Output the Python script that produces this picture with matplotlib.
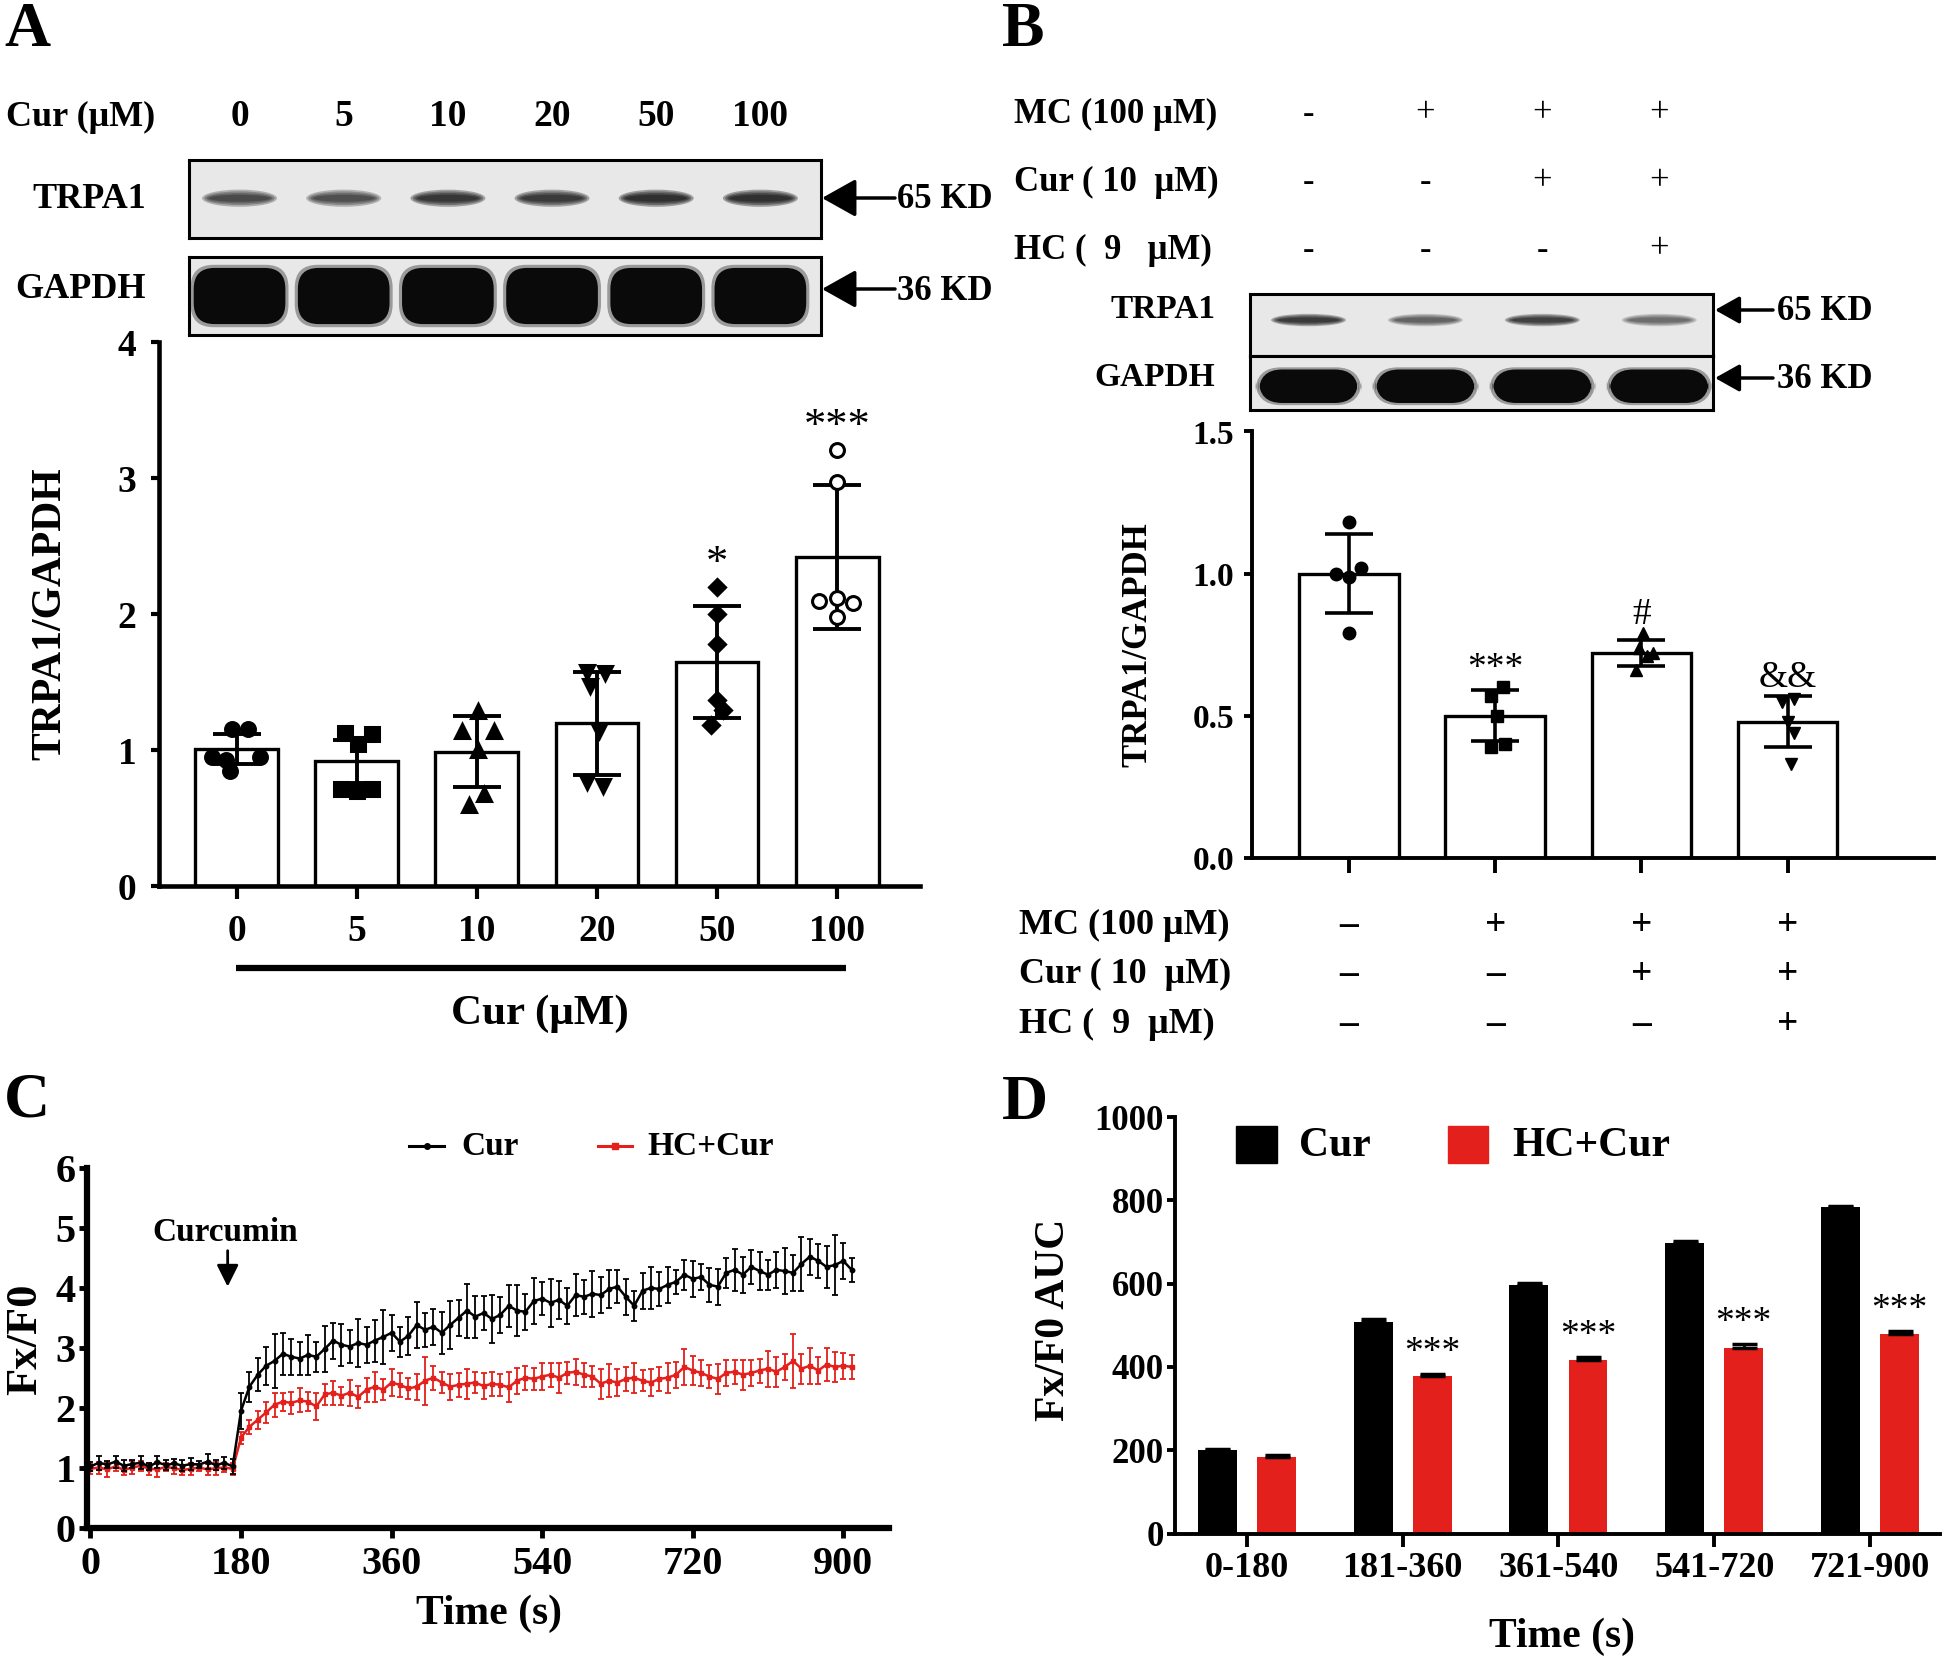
import numpy as np
import matplotlib
matplotlib.use('Agg')
import matplotlib.pyplot as plt
from matplotlib.patches import Ellipse, FancyBboxPatch, Rectangle
from matplotlib.transforms import blended_transform_factory

plt.rcParams['font.family'] = ['Liberation Serif', 'DejaVu Serif']
plt.rcParams['font.weight'] = 'bold'
plt.rcParams['axes.labelweight'] = 'bold'

# ---------------- data ----------------
# panel A
conc = ['0', '5', '10', '20', '50', '100']
trpa1_band_a = [0.72, 0.68, 0.88, 0.85, 0.95, 0.95]
gapdh_band_a = [1, 1, 1, 1, 1, 1]
ratio_a_mean = [1.01, 0.92, 0.99, 1.20, 1.65, 2.42]
ratio_a_sd = [0.11, 0.16, 0.26, 0.38, 0.41, 0.53]
ratio_a_pts = [[1.16, 1.16, 0.95, 0.93, 0.95, 0.85],
               [1.13, 1.12, 1.05, 0.72, 0.70, 0.72],
               [1.29, 1.14, 1.14, 1.00, 0.68, 0.60],
               [1.58, 1.57, 1.47, 1.14, 0.77, 0.74],
               [2.20, 2.00, 1.78, 1.37, 1.30, 1.19],
               [3.21, 2.97, 2.10, 2.12, 2.08, 1.98]]
sig_a = ['', '', '', '', '*', '***']

# panel B
mc_on = [0, 1, 1, 1]
cur_on = [0, 0, 1, 1]
hc_on = [0, 0, 0, 1]
trpa1_band_b = [0.85, 0.55, 0.80, 0.50]
gapdh_band_b = [1, 1, 1, 1]
ratio_b_mean = [1.00, 0.50, 0.72, 0.48]
ratio_b_sd = [0.14, 0.09, 0.045, 0.09]
ratio_b_pts = [[1.18, 1.02, 1.00, 0.99, 0.79],
               [0.60, 0.57, 0.50, 0.40, 0.39],
               [0.79, 0.74, 0.72, 0.71, 0.66],
               [0.56, 0.55, 0.48, 0.44, 0.33]]
sig_b = ['', '***', '#', '&&']

# panel C (every 10 s)
time_s = np.arange(0, 911, 10)
cur_mean = [1.02, 1.08, 1.05, 1.10, 1.03, 1.06, 1.08, 1.02, 1.09, 1.04, 1.07, 1.03, 1.06, 1.05, 1.10, 1.04, 1.08, 1.02,
            1.95, 2.35, 2.55, 2.70, 2.78, 2.90, 2.85, 2.82, 2.88, 2.85,
            2.98, 3.12, 3.05, 3.02, 3.08, 3.05, 3.12, 3.18, 3.25, 3.10,
            3.20, 3.38, 3.30, 3.35, 3.25, 3.38, 3.50, 3.62, 3.52, 3.58,
            3.48, 3.55, 3.70, 3.62, 3.60, 3.78, 3.82, 3.75, 3.80, 3.70,
            3.88, 3.85, 3.90, 3.88, 3.98, 4.02, 3.85, 3.70, 3.95, 4.00,
            3.98, 4.05, 4.10, 4.22, 4.15, 4.18, 4.05, 4.02, 4.25, 4.30,
            4.22, 4.35, 4.28, 4.22, 4.30, 4.28, 4.25, 4.40, 4.52, 4.45,
            4.35, 4.38, 4.45, 4.30]
cur_err = [0.08, 0.12, 0.06, 0.10, 0.09, 0.07, 0.11, 0.06, 0.10, 0.08, 0.07, 0.09, 0.10, 0.06, 0.12, 0.08, 0.10, 0.13,
           0.30, 0.25, 0.28, 0.32, 0.45, 0.35, 0.30, 0.28, 0.33, 0.25,
           0.38, 0.30, 0.35, 0.28, 0.40, 0.30, 0.35, 0.45, 0.30, 0.25,
           0.32, 0.38, 0.28, 0.30, 0.35, 0.40, 0.30, 0.45, 0.35, 0.28,
           0.40, 0.30, 0.35, 0.42, 0.30, 0.38, 0.28, 0.40, 0.32, 0.30,
           0.35, 0.28, 0.38, 0.30, 0.32, 0.28, 0.30, 0.25, 0.30, 0.35,
           0.28, 0.30, 0.20, 0.25, 0.30, 0.22, 0.28, 0.30, 0.25, 0.35,
           0.30, 0.28, 0.32, 0.25, 0.30, 0.38, 0.30, 0.45, 0.30, 0.28,
           0.35, 0.50, 0.30, 0.20]
hc_mean = [0.98, 1.00, 0.97, 1.02, 0.96, 1.00, 1.03, 0.98, 0.97, 1.01, 0.99, 0.96, 0.98, 1.00, 0.97, 0.99, 1.00, 0.98,
           1.50, 1.68, 1.80, 1.92, 2.05, 2.10, 2.08, 2.12, 2.10, 2.02,
           2.22, 2.25, 2.20, 2.25, 2.18, 2.30, 2.35, 2.30, 2.42, 2.38,
           2.32, 2.35, 2.45, 2.50, 2.42, 2.35, 2.38, 2.40, 2.42, 2.36,
           2.40, 2.38, 2.34, 2.45, 2.50, 2.48, 2.52, 2.55, 2.50, 2.58,
           2.60, 2.55, 2.52, 2.40, 2.45, 2.42, 2.48, 2.50, 2.45, 2.42,
           2.48, 2.50, 2.55, 2.68, 2.62, 2.58, 2.52, 2.48, 2.58, 2.60,
           2.55, 2.58, 2.62, 2.65, 2.60, 2.68, 2.78, 2.65, 2.70, 2.62,
           2.72, 2.68, 2.70, 2.68]
hc_err = [0.08, 0.10, 0.12, 0.07, 0.09, 0.11, 0.08, 0.10, 0.12, 0.07, 0.09, 0.08, 0.10, 0.06, 0.09, 0.11, 0.08, 0.10,
          0.10, 0.12, 0.15, 0.18, 0.20, 0.15, 0.18, 0.20, 0.16, 0.22,
          0.18, 0.20, 0.15, 0.22, 0.18, 0.20, 0.25, 0.18, 0.22, 0.20,
          0.18, 0.22, 0.40, 0.20, 0.18, 0.22, 0.20, 0.25, 0.18, 0.22,
          0.20, 0.18, 0.25, 0.22, 0.20, 0.18, 0.22, 0.20, 0.25, 0.18,
          0.22, 0.20, 0.18, 0.25, 0.28, 0.22, 0.20, 0.25, 0.18, 0.22,
          0.20, 0.25, 0.22, 0.30, 0.25, 0.22, 0.20, 0.25, 0.22, 0.20,
          0.25, 0.22, 0.20, 0.30, 0.25, 0.22, 0.45, 0.25, 0.30, 0.22,
          0.28, 0.25, 0.22, 0.20]

# panel D
bins = ['0-180', '181-360', '361-540', '541-720', '721-900']
auc_cur = [200, 507, 597, 698, 783]
auc_cur_err = [3, 7, 5, 5, 4]
auc_hc = [185, 378, 416, 446, 478]
auc_hc_err = [4, 5, 7, 8, 8]
sig_d = ['', '***', '***', '***', '***']

# ---------------- layout helpers ----------------
W, H = 1944, 1660
RED = '#e3201b'
fig = plt.figure(figsize=(W / 100, H / 100), dpi=100)


def rect(x0, y0, x1, y1):
    return [x0 / W, 1 - y1 / H, (x1 - x0) / W, (y1 - y0) / H]


def style_axes(ax, lw):
    for s in ['top', 'right']:
        ax.spines[s].set_visible(False)
    for s in ['left', 'bottom']:
        ax.spines[s].set_linewidth(lw)
    ax.set_facecolor('none')


def blot(box, xlim, bands, yc, bh, bw, thick):
    bx = fig.add_axes(rect(*box))
    bx.set_xlim(*xlim)
    bx.set_ylim(1, 0)
    bx.set_xticks([])
    bx.set_yticks([])
    bx.set_facecolor('#e8e8e8')
    for s in bx.spines.values():
        s.set_linewidth(2.2)
    pos = bx.get_position()
    asp = (pos.width * W / (xlim[1] - xlim[0])) / (pos.height * H)
    for i, v in enumerate(bands):
        if thick:
            bx.add_patch(FancyBboxPatch((i - bw / 2 - 0.03, yc - bh / 2 - 0.04), bw + 0.06, bh + 0.08,
                                        boxstyle='round,pad=0,rounding_size=0.22', mutation_aspect=asp,
                                        fc='#666', ec='none', alpha=0.6))
            bx.add_patch(FancyBboxPatch((i - bw / 2, yc - bh / 2), bw, bh,
                                        boxstyle='round,pad=0,rounding_size=0.2', mutation_aspect=asp,
                                        fc='#0a0a0a', ec='none'))
        else:
            for k in [1.0, 0.8, 0.6, 0.4]:
                bx.add_patch(Ellipse((i, yc), bw * (0.7 + 0.3 * k), bh * k,
                                     color='k', alpha=0.34 * v, lw=0))
    return bx


ov = fig.add_axes([0, 0, 1, 1], zorder=10)
ov.set_xlim(0, W)
ov.set_ylim(H, 0)
ov.axis('off')


def arrow(tip, end, y, ms):
    ov.annotate('', xy=(tip, y), xytext=(end, y),
                arrowprops=dict(arrowstyle='-|>,head_length=0.5,head_width=0.28', lw=2.5,
                                color='k', mutation_scale=ms, shrinkA=0, shrinkB=0))


# ---------------- panel A ----------------
ov.text(4, 2, 'A', fontsize=46, va='top', ha='left')
ov.text(6, 117, 'Cur (\u03bcM)', fontsize=26, va='center', ha='left')
bta = blot((188.5, 160, 820.8, 238), (-0.49, 5.58), trpa1_band_a, 0.49, 0.22, 0.72, False)
bga = blot((188.5, 257, 820.8, 335), (-0.49, 5.58), gapdh_band_a, 0.5, 0.72, 0.88, True)
tr_a = blended_transform_factory(bta.transData, ov.transData)
for i, c in enumerate(conc):
    ov.text(i, 117, c, transform=tr_a, fontsize=27, ha='center', va='center')
ov.text(146, 200, 'TRPA1', fontsize=26, ha='right', va='center')
ov.text(146, 289, 'GAPDH', fontsize=26, ha='right', va='center')
arrow(822, 895, 198, 42)
arrow(822, 895, 289, 42)
ov.text(897, 200, '65 KD', fontsize=25, ha='left', va='center')
ov.text(897, 291, '36 KD', fontsize=25, ha='left', va='center')

axa = fig.add_axes(rect(158.7, 342.2, 920, 886.5))
style_axes(axa, 3.3)
xa = np.arange(len(conc))
axa.bar(xa, ratio_a_mean, width=0.69, color='white', edgecolor='k', linewidth=2.4, zorder=2)
axa.errorbar(xa, ratio_a_mean, yerr=ratio_a_sd, fmt='none', ecolor='k', elinewidth=2.8,
             capsize=17, capthick=2.8, zorder=3)
jit_a = [[-0.04, 0.09, -0.21, -0.09, 0.19, -0.06],
         [-0.10, 0.13, 0.01, -0.13, 0.00, 0.13],
         [0.01, -0.12, 0.14, 0.01, 0.06, -0.07],
         [-0.08, 0.07, -0.06, 0.02, -0.08, 0.05],
         [0.00, 0.00, 0.00, 0.00, 0.05, -0.05],
         [0.00, 0.00, -0.15, 0.00, 0.13, 0.00]]
mk_a = ['o', 's', '^', 'v', 'D', 'o']
for i in range(len(conc)):
    fc = 'white' if i == 5 else 'k'
    ms = 8 if i == 4 else 10
    axa.plot(xa[i] + np.array(jit_a[i]), ratio_a_pts[i], linestyle='none', marker=mk_a[i],
             ms=ms, mfc=fc, mec='k', mew=2.2, zorder=4)
    if sig_a[i]:
        top = max(max(ratio_a_pts[i]), ratio_a_mean[i] + ratio_a_sd[i])
        axa.annotate(sig_a[i], xy=(xa[i], top), xytext=(0, 2), textcoords='offset points',
                     ha='center', va='bottom', fontsize=32, fontweight='normal')
axa.set_xlim(-0.65, 5.69)
axa.set_ylim(0, 4)
axa.set_yticks([0, 1, 2, 3, 4])
axa.set_xticks(xa)
axa.set_xticklabels(conc)
axa.tick_params(axis='y', length=6, width=3, labelsize=27, pad=10)
axa.tick_params(axis='x', length=9, width=3, labelsize=27, pad=11)
ov.plot([235.6, 845.5], [968, 968], color='k', lw=4.5, solid_capstyle='butt')
ov.text(540, 1014, 'Cur (\u03bcM)', fontsize=31, ha='center', va='center')
ov.text(50, 614, 'TRPA1/GAPDH', fontsize=30, ha='center', va='center', rotation=90)

# ---------------- panel B ----------------
ov.text(1002, 2, 'B', fontsize=46, va='top', ha='left')
btb = blot((1250, 294, 1713, 356), (-0.5, 3.46), trpa1_band_b, 0.42, 0.2, 0.64, False)
bgb = blot((1250, 356, 1713, 410), (-0.5, 3.46), gapdh_band_b, 0.56, 0.62, 0.85, True)
tr_b = blended_transform_factory(btb.transData, ov.transData)
rows_b = [('MC (100 \u03bcM)', mc_on), ('Cur ( 10  \u03bcM)', cur_on), ('HC (  9   \u03bcM)', hc_on)]
for (lab, on), y in zip(rows_b, [114, 182, 250]):
    ov.text(1014, y, lab, fontsize=25, ha='left', va='center')
    for i, v in enumerate(on):
        ov.text(i, y, '+' if v else '-', transform=tr_b, fontsize=25, fontweight='normal',
                ha='center', va='center')
ov.text(1215, 310, 'TRPA1', fontsize=24, ha='right', va='center')
ov.text(1215, 378, 'GAPDH', fontsize=24, ha='right', va='center')
arrow(1715, 1773, 310, 30)
arrow(1715, 1773, 378, 30)
ov.text(1777, 311, '65 KD', fontsize=25, ha='left', va='center')
ov.text(1777, 379, '36 KD', fontsize=25, ha='left', va='center')

axb = fig.add_axes(rect(1252, 431.5, 1934, 858))
style_axes(axb, 2.8)
xb = np.arange(len(ratio_b_mean))
axb.bar(xb, ratio_b_mean, width=0.68, color='white', edgecolor='k', linewidth=2.4, zorder=2)
axb.errorbar(xb, ratio_b_mean, yerr=ratio_b_sd, fmt='none', ecolor='k', elinewidth=2.6,
             capsize=17, capthick=2.6, zorder=3)
jit_b = [[0.00, 0.08, -0.09, 0.00, 0.00],
         [0.05, -0.03, 0.01, 0.07, -0.03],
         [0.01, -0.02, 0.08, 0.04, -0.04],
         [0.04, -0.04, 0.00, 0.04, 0.02]]
mk_b = ['o', 's', '^', 'v']
for i in range(len(xb)):
    axb.plot(xb[i] + np.array(jit_b[i]), ratio_b_pts[i], linestyle='none', marker=mk_b[i],
             ms=9, mfc='k', mec='k', zorder=4)
    if sig_b[i]:
        top = max(max(ratio_b_pts[i]), ratio_b_mean[i] + ratio_b_sd[i])
        axb.annotate(sig_b[i], xy=(xb[i], top), xytext=(0, 1), textcoords='offset points',
                     ha='center', va='bottom', fontsize=27, fontweight='normal')
axb.set_xlim(-0.663, 4.0)
axb.set_ylim(0, 1.5)
axb.set_yticks([0, 0.5, 1.0, 1.5])
axb.set_yticklabels(['0.0', '0.5', '1.0', '1.5'])
axb.set_xticks(xb)
axb.set_xticklabels([])
axb.tick_params(axis='y', length=6, width=2.8, labelsize=24, pad=7)
axb.tick_params(axis='x', length=11, width=2.8)
ov.text(1138, 645, 'TRPA1/GAPDH', fontsize=25, ha='center', va='center', rotation=90)
trb2 = blended_transform_factory(axb.transData, ov.transData)
for (lab, on), y in zip([('MC (100 \u03bcM)', mc_on), ('Cur ( 10  \u03bcM)', cur_on),
                         ('HC (  9  \u03bcM)', hc_on)], [925, 974.5, 1024]):
    ov.text(1019, y, lab, fontsize=26, ha='left', va='center')
    for i, v in enumerate(on):
        ov.text(i, y, '+' if v else '\u2013', transform=trb2, fontsize=27,
                ha='center', va='center')

# ---------------- panel C ----------------
ov.text(4, 1072, 'C', fontsize=46, va='top', ha='left')
axc = fig.add_axes(rect(86.8, 1168, 889.3, 1527.5))
style_axes(axc, 4.5)
axc.errorbar(time_s, cur_mean, yerr=cur_err, fmt='-o', color='k', ms=3.2, lw=1.8,
             elinewidth=1.3, capsize=2.5, capthick=1.3, zorder=3)
axc.errorbar(time_s, hc_mean, yerr=hc_err, fmt='-s', color=RED, ms=3.2, lw=1.8,
             elinewidth=1.3, capsize=2.5, capthick=1.3, zorder=2)
axc.set_xlim(-4.4, 955)
axc.set_ylim(0, 6)
axc.set_xticks([0, 180, 360, 540, 720, 900])
axc.set_yticks([0, 1, 2, 3, 4, 5, 6])
axc.tick_params(axis='y', length=6, width=3.5, labelsize=29, pad=2)
axc.tick_params(axis='x', length=7, width=3.5, labelsize=29, pad=6)
axc.text(161, 4.93, 'Curcumin', ha='center', va='center', fontsize=24)
axc.annotate('', xy=(164, 4.02), xytext=(164, 4.62),
             arrowprops=dict(arrowstyle='-|>,head_length=0.6,head_width=0.3',
                             color='k', lw=2, mutation_scale=22, shrinkA=0, shrinkB=0))
ov.plot([409, 444], [1146, 1146], color='k', lw=2.2)
ov.plot([426.5], [1146], color='k', marker='o', ms=4)
ov.text(461, 1146, 'Cur', fontsize=24, ha='left', va='center')
ov.plot([598, 632], [1146, 1146], color=RED, lw=2.2)
ov.plot([615], [1146], color=RED, marker='s', ms=4)
ov.text(647, 1146, 'HC+Cur', fontsize=24, ha='left', va='center')
ov.text(25, 1339, 'Fx/F0', fontsize=32, ha='center', va='center', rotation=90)
ov.text(488.5, 1614, 'Time (s)', fontsize=30, ha='center', va='center')

# ---------------- panel D ----------------
ov.text(1002, 1075, 'D', fontsize=46, va='top', ha='left')
axd = fig.add_axes(rect(1175, 1117, 1940, 1533.6))
style_axes(axd, 2.8)
xd = np.arange(len(bins))
axd.bar(xd - 0.19, auc_cur, width=0.25, color='k', zorder=2)
axd.bar(xd + 0.19, auc_hc, width=0.25, color=RED, zorder=2)
axd.errorbar(xd - 0.19, auc_cur, yerr=[[0] * len(bins), auc_cur_err], fmt='none', ecolor='k',
             elinewidth=2, capsize=9, capthick=2.5, zorder=3)
axd.errorbar(xd + 0.19, auc_hc, yerr=[[0] * len(bins), auc_hc_err], fmt='none', ecolor='k',
             elinewidth=2, capsize=9, capthick=2.5, zorder=3)
for i in range(len(bins)):
    if sig_d[i]:
        axd.annotate(sig_d[i], xy=(xd[i] + 0.19, auc_hc[i] + auc_hc_err[i]), xytext=(0, 3),
                     textcoords='offset points', ha='center', va='bottom', fontsize=27,
                     fontweight='normal')
axd.set_xlim(-0.462, 4.45)
axd.set_ylim(0, 1000)
axd.set_yticks([0, 200, 400, 600, 800, 1000])
axd.set_xticks(xd)
axd.set_xticklabels(bins)
axd.tick_params(axis='y', length=6, width=2.8, labelsize=25, pad=2)
axd.tick_params(axis='x', length=9, width=2.8, labelsize=26, pad=4)
ov.add_patch(Rectangle((1236, 1126), 41, 37, color='k'))
ov.text(1299, 1146, 'Cur', fontsize=30, ha='left', va='center')
ov.add_patch(Rectangle((1448, 1126), 40, 37, color=RED))
ov.text(1512, 1146, 'HC+Cur', fontsize=30, ha='left', va='center')
ov.text(1054, 1320, 'Fx/F0 AUC', fontsize=30, ha='center', va='center', rotation=90)
ov.text(1562, 1637, 'Time (s)', fontsize=30, ha='center', va='center')

fig.savefig('out.png', dpi=100)
